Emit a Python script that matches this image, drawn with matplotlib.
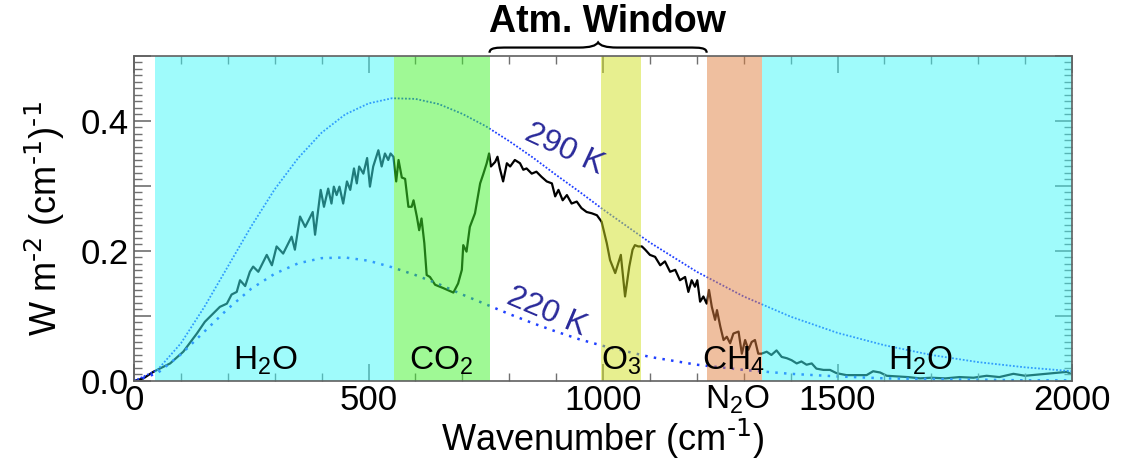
## Outgoing longwave spectrum with absorption bands ##
import matplotlib
matplotlib.use('Agg')
import matplotlib.pyplot as plt
from matplotlib.path import Path
from matplotlib.patches import PathPatch
from matplotlib.ticker import MultipleLocator, FuncFormatter

plt.rcParams['font.family'] = ['Liberation Sans', 'DejaVu Sans']
plt.rcParams['mathtext.default'] = 'regular'
plt.rcParams['axes.unicode_minus'] = False

# Spectrum #
wn = [0, 20, 41, 77, 105, 134, 151, 169, 183, 198, 208, 219, 226, 237, 247,
      254, 265, 283, 294, 304, 318, 336, 343, 354, 365, 381, 386, 398, 405,
      414, 421, 426, 432, 438, 446, 454, 461, 469, 475, 480, 489, 497, 503,
      510, 521, 528, 535, 542, 547, 553, 559, 564, 571, 578, 585, 592, 596,
      603, 608, 613, 619, 624, 631, 642, 659, 681, 691, 699, 702, 709, 716,
      727, 738, 745, 752, 757, 761, 770, 775, 780, 787, 795, 802, 812, 823,
      830, 837, 848, 858, 869, 880, 891, 898, 905, 914, 923, 933, 944, 954,
      965, 976, 987, 997, 1008, 1015, 1026, 1038, 1047, 1056, 1063, 1068,
      1075, 1083, 1090, 1100, 1111, 1122, 1132, 1143, 1154, 1164, 1175, 1182,
      1189, 1196, 1201, 1207, 1214, 1221, 1226, 1232, 1239, 1243, 1250, 1257,
      1264, 1271, 1278, 1289, 1296, 1303, 1310, 1317, 1324, 1331, 1338, 1349,
      1359, 1370, 1381, 1392, 1402, 1413, 1423, 1434, 1445, 1455, 1470, 1484,
      1498, 1519, 1541, 1562, 1576, 1591, 1605, 1626, 1650, 1676, 1700, 1730,
      1760, 1790, 1818, 1845, 1875, 1900, 1930, 1960, 1989, 2000]
rad = [0.0, 0.004, 0.014, 0.027, 0.045, 0.073, 0.091, 0.104, 0.114, 0.119,
       0.133, 0.137, 0.155, 0.146, 0.168, 0.176, 0.168, 0.194, 0.178, 0.207,
       0.196, 0.222, 0.202, 0.253, 0.237, 0.260, 0.225, 0.294, 0.268, 0.296,
       0.273, 0.299, 0.286, 0.299, 0.273, 0.307, 0.294, 0.327, 0.304, 0.330,
       0.319, 0.343, 0.299, 0.330, 0.355, 0.330, 0.350, 0.340, 0.350, 0.345,
       0.307, 0.340, 0.313, 0.311, 0.268, 0.268, 0.278, 0.253, 0.232, 0.250,
       0.212, 0.163, 0.160, 0.148, 0.143, 0.136, 0.150, 0.171, 0.209, 0.199,
       0.237, 0.258, 0.304, 0.319, 0.335, 0.350, 0.330, 0.337, 0.345, 0.327,
       0.307, 0.335, 0.330, 0.340, 0.335, 0.325, 0.327, 0.319, 0.322, 0.314,
       0.307, 0.304, 0.284, 0.294, 0.278, 0.286, 0.273, 0.276, 0.266, 0.260,
       0.258, 0.255, 0.245, 0.212, 0.186, 0.166, 0.194, 0.130, 0.176, 0.202,
       0.209, 0.207, 0.207, 0.202, 0.194, 0.191, 0.178, 0.184, 0.168, 0.171,
       0.155, 0.160, 0.137, 0.155, 0.145, 0.155, 0.122, 0.130, 0.119, 0.140,
       0.114, 0.094, 0.109, 0.084, 0.063, 0.068, 0.058, 0.073, 0.076, 0.042,
       0.063, 0.048, 0.060, 0.063, 0.042, 0.042, 0.045, 0.040, 0.047, 0.037,
       0.035, 0.032, 0.027, 0.030, 0.025, 0.027, 0.019, 0.017, 0.017, 0.012,
       0.009, 0.009, 0.009, 0.015, 0.013, 0.008, 0.007, 0.006, 0.004, 0.005,
       0.004, 0.006, 0.005, 0.008, 0.006, 0.011, 0.008, 0.010, 0.012, 0.014,
       0.010]

# Blackbody curves #
wn_bb = [0, 50, 100, 150, 200, 250, 300, 350, 400, 450, 500, 550, 600, 650,
         700, 750, 800, 850, 900, 950, 1000, 1100, 1200, 1300, 1400, 1500,
         1600, 1700, 1800, 1900, 2000]
bb290 = [0.0, 0.017, 0.058, 0.114, 0.176, 0.238, 0.295, 0.343, 0.382, 0.410,
         0.427, 0.435, 0.434, 0.426, 0.411, 0.392, 0.369, 0.344, 0.317, 0.291,
         0.264, 0.213, 0.168, 0.130, 0.099, 0.074, 0.055, 0.040, 0.029, 0.021,
         0.015]
bb220 = [0.0, 0.012, 0.041, 0.076, 0.111, 0.142, 0.165, 0.181, 0.189, 0.190,
         0.185, 0.175, 0.163, 0.149, 0.133, 0.118, 0.103, 0.089, 0.076, 0.064,
         0.054, 0.037, 0.025, 0.017, 0.011, 0.007, 0.004, 0.003, 0.002, 0.001,
         0.001]

# Absorption bands: start, end, colour, label, label position #
band_lo = [45, 555, 995, 1221, 1338]
band_hi = [555, 758, 1080, 1338, 2000]
band_col = ['#41f9f9', '#41f52d', '#d1e121', '#e18141', '#41f9f9']
gas_lbl = ['H$_2$O', 'CO$_2$', 'O$_3$', 'CH$_4$', 'H$_2$O']
gas_x = [279, 655, 1038, 1277, 1676]

fig = plt.figure(figsize=(11.32, 4.59), dpi=100)
ax = fig.add_axes([0.1184, 0.170, 0.8286, 0.708])

ax.plot(wn, rad, color='black', lw=1.6, zorder=1)
ax.plot(wn_bb, bb290, color='#2040ff', lw=1.3, ls=(0, (1, 1)), zorder=1)
ax.plot(wn_bb, bb220, color='#2040ff', lw=1.8, ls=(0, (1, 2.5)), zorder=1)

for lo, hi, c in zip(band_lo, band_hi, band_col):
    ax.axvspan(lo, hi, color=c, alpha=0.5, lw=0, zorder=2)

for lbl, x in zip(gas_lbl, gas_x):
    ax.text(x, 0.006, lbl, ha='center', va='bottom', fontsize=24, zorder=3)
ax.text(1286, -0.004, 'N$_2$O', ha='center', va='top', fontsize=24, zorder=3)

ax.text(918, 0.356, '290 K', rotation=-25, color='#2a2a9a', fontsize=23,
        ha='center', va='center', zorder=3)
ax.text(880, 0.106, '220 K', rotation=-23, color='#2a2a9a', fontsize=23,
        ha='center', va='center', zorder=3)

# Atm. window brace above the plot #
x0, x1 = 758, 1221
xm = (x0 + x1) / 2
yb, yt = 0.505, 0.521
ym = (yb + yt) / 2
verts = [(x0, yb), (x0, ym), (x0 + 15, ym), (x0 + 40, ym),
         (xm - 40, ym), (xm - 6, ym), (xm, yt),
         (xm + 6, ym), (xm + 40, ym), (x1 - 40, ym),
         (x1 - 15, ym), (x1, ym), (x1, yb)]
codes = [Path.MOVETO, Path.CURVE4, Path.CURVE4, Path.LINETO,
         Path.LINETO, Path.CURVE3, Path.CURVE3,
         Path.CURVE3, Path.CURVE3, Path.LINETO,
         Path.CURVE4, Path.CURVE4, Path.CURVE4]
ax.add_patch(PathPatch(Path(verts, codes), fc='none', ec='black', lw=1.6,
                       clip_on=False))
ax.text(1010, 0.524, 'Atm. Window', ha='center', va='bottom', fontsize=27,
        fontweight='bold')

ax.set_xlim(0, 2000)
ax.set_ylim(0, 0.5)
ax.xaxis.set_major_locator(MultipleLocator(500))
ax.xaxis.set_minor_locator(MultipleLocator(100))
ax.yaxis.set_major_locator(MultipleLocator(0.1))
ax.yaxis.set_minor_locator(MultipleLocator(0.01))
ax.yaxis.set_major_formatter(FuncFormatter(
    lambda v, p: '%.1f' % v if round(v * 10) % 2 == 0 else ''))
ax.tick_params(which='both', direction='in', top=True, right=True,
               color='#707070', labelsize=25)
ax.tick_params(which='major', length=12, width=1.2)
ax.tick_params(which='minor', length=6, width=1)
ax.tick_params(axis='x', pad=2)
for s in ax.spines.values():
    s.set_color('#606060')
    s.set_linewidth(1.2)

ax.set_xlabel('Wavenumber (cm$^{\\text{-1}}$)', fontsize=26, labelpad=0)
ax.set_ylabel('W m$^{\\text{-2}}$ (cm$^{\\text{-1}}$)$^{\\text{-1}}$',
              fontsize=26, labelpad=10)

fig.savefig('out.png', dpi=100)
